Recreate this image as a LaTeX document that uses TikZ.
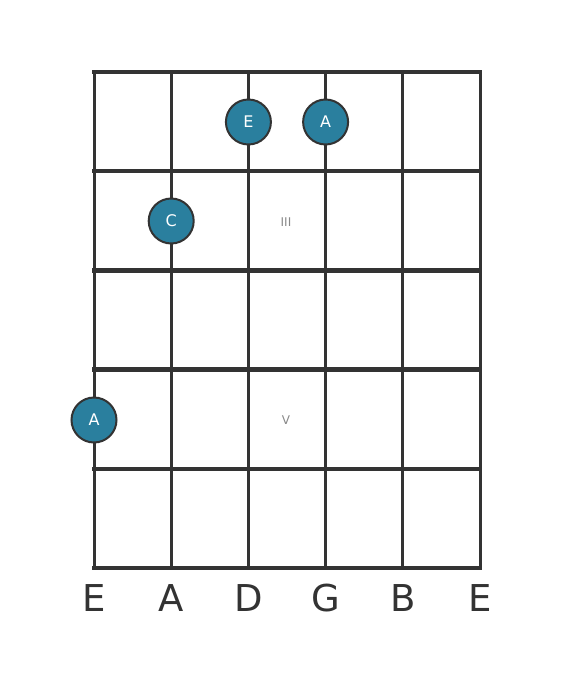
\documentclass[tikz,border=0pt]{standalone}
\usepackage{fontspec}
\setmainfont{DejaVu Sans}
\definecolor{grid}{HTML}{333333}
\definecolor{dotfill}{HTML}{2A7F9E}
\definecolor{roman}{HTML}{888888}
\tikzset{
  stringline/.style={draw=grid, line width=3pt},
  fretline/.style={draw=grid, line width=4.5pt},
  notedot/.style={circle, fill=dotfill, draw=grid, line width=2pt, minimum size=45pt, inner sep=0pt, text=white, font=\fontsize{16}{16}\selectfont},
  romanlabel/.style={text=roman, font=\fontsize{12}{12}\selectfont},
  stringname/.style={text=grid, font=\fontsize{37}{37}\selectfont}
}
\begin{document}
\begin{tikzpicture}[x=1pt,y=-1pt]
\useasboundingbox (0,0) rectangle (560,682);
% strings
\foreach \i/\x in {1/94,2/171.2,3/248.4,4/325.6,5/402.8,6/480}{
  \coordinate (st\i) at (\x,72);
  \coordinate (sb\i) at (\x,568);
  \draw[stringline] (st\i) -- (sb\i);
}
% frets
\foreach \j/\y in {0/72,1/171.2,2/270.4,3/369.6,4/468.8,5/568}{
  \coordinate (fl\j) at (94,\y);
  \coordinate (fr\j) at (480,\y);
  \draw[fretline, line cap=rect] (fl\j) -- (fr\j);
}
% dots
\node[notedot] (n1) at (248.4,122) {E};
\node[notedot] (n2) at (325.6,122) {A};
\node[notedot] (n3) at (171.2,221) {C};
\node[notedot] (n4) at (94,420) {A};
% fret markers
\node[romanlabel] (r3) at (286,222) {III};
\node[romanlabel] (r5) at (286,420) {V};
% string names
\foreach \i/\x/\t in {1/94/E,2/171.2/A,3/248.4/D,4/325.6/G,5/402.8/B,6/480/E}{
  \node[stringname] (lab\i) at (\x,598) {\t};
}
\end{tikzpicture}
\end{document}
